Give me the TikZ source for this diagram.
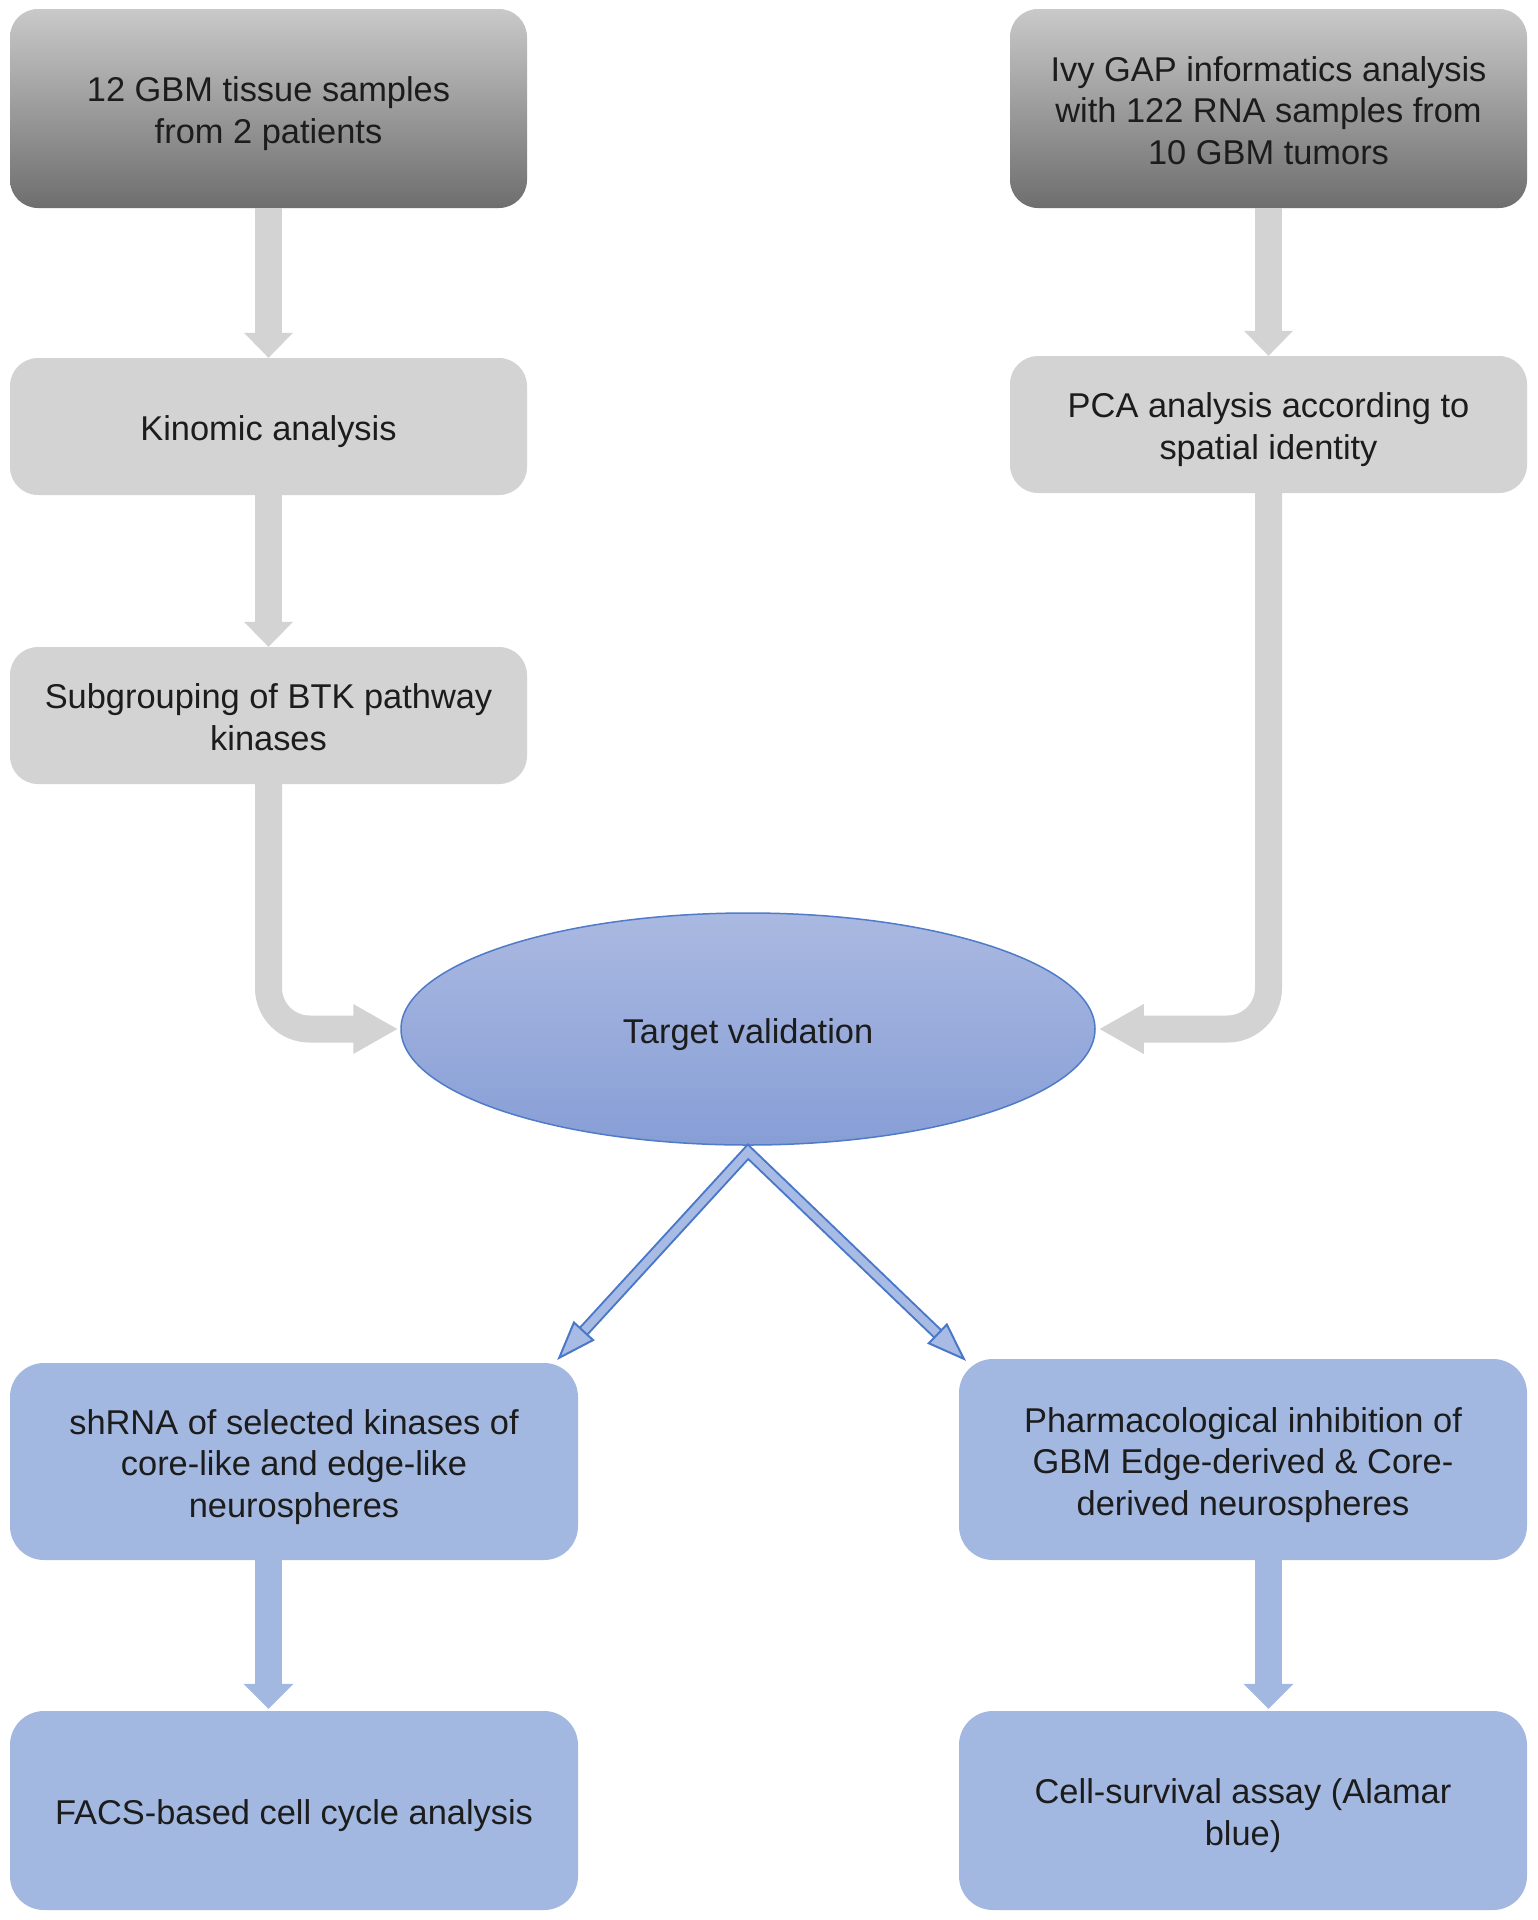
\documentclass[tikz,border=0pt]{standalone}
\usepackage{fontspec}
\setmainfont{Liberation Sans}
\usetikzlibrary{calc,shapes.geometric}
\definecolor{gbox}{HTML}{D3D3D3}
\definecolor{garrow}{HTML}{D3D3D3}
\definecolor{gtop}{HTML}{C9C9C9}
\definecolor{gbot}{HTML}{6E6E6E}
\definecolor{bbox}{HTML}{A3B8E1}
\definecolor{etop}{HTML}{AAB9E1}
\definecolor{ebot}{HTML}{879ED6}
\definecolor{eline}{HTML}{4F7BC8}
\definecolor{dfill}{HTML}{A7BBE4}
\definecolor{dline}{HTML}{4A78C8}
\definecolor{txt}{HTML}{1C1C1C}
\newcommand{\topstrut}{\rule{0pt}{36pt}}
\newcommand{\botstrut}{\rule[-8pt]{0pt}{8pt}}
\begin{document}
\begin{tikzpicture}[x=1pt,y=-1pt,
  every node/.style={font=\fontsize{34.4}{41.5}\selectfont, text=txt, align=center, inner sep=0pt},
  graybox/.style={rectangle, rounded corners=28pt, fill=gbox, minimum width=517pt, minimum height=137pt},
  darkbox/.style={rectangle, rounded corners=28pt, top color=gtop, bottom color=gbot, minimum width=517pt, minimum height=199pt},
  bluebox/.style={rectangle, rounded corners=34pt, fill=bbox, minimum width=568pt, minimum height=199pt},
  gshaft/.style={draw=garrow, line width=27pt},
  bshaft/.style={draw=bbox, line width=27pt},
  dblarrow/.style={draw=dline, line width=2pt, double=dfill, double distance=8pt, line join=miter},
  dblhead/.style={fill=dfill, draw=dline, line width=2pt, line join=miter}
]
\useasboundingbox (0,0) rectangle (1538,1920);
\fill[white] (0,0) rectangle (1538,1920);

% nodes
\node[darkbox] (A) at (268.5,108.5) {\topstrut 12 GBM tissue samples\\from 2 patients\botstrut};
\node[darkbox] (B) at (1268.5,108.5) {\topstrut Ivy GAP informatics analysis\\with 122 RNA samples from\\10 GBM tumors\botstrut};
\node[graybox] (C) at (268.5,426.5) {\topstrut Kinomic analysis\botstrut};
\node[graybox] (D) at (1268.5,424.5) {\topstrut PCA analysis according to\\spatial identity\botstrut};
\node[graybox] (E) at (268.5,715.5) {\topstrut Subgrouping of BTK pathway\\kinases\botstrut};
\node[ellipse, minimum width=694pt, minimum height=232pt, top color=etop, bottom color=ebot, draw=eline, line width=1.5pt] (T) at (748,1029) {\topstrut Target validation\botstrut};
\node[bluebox, minimum height=197pt] (F) at (294,1461.5) {\topstrut shRNA of selected kinases of\\core-like and edge-like\\neurospheres\botstrut};
\node[bluebox, minimum height=201pt] (G) at (1243,1459.5) {\topstrut Pharmacological inhibition of\\GBM Edge-derived \& Core-\\derived neurospheres\botstrut};
\node[bluebox] (H) at (294,1810.5) {\topstrut FACS-based cell cycle analysis\botstrut};
\node[bluebox] (I) at (1243,1810.5) {\topstrut Cell-survival assay (Alamar\\blue)\botstrut};

% gray straight arrows
\draw[gshaft] (A.south) -- ([yshift=22pt]C.north);
\fill[garrow] (C.north) -- ++(-24.5pt,25pt) -- ++(49pt,0pt) -- cycle;
\draw[gshaft] (B.south) -- ([yshift=22pt]D.north);
\fill[garrow] (D.north) -- ++(-24.5pt,25pt) -- ++(49pt,0pt) -- cycle;
\draw[gshaft] (C.south) -- ([yshift=22pt]E.north);
\fill[garrow] (E.north) -- ++(-24.5pt,25pt) -- ++(49pt,0pt) -- cycle;

% gray elbow arrows
\coordinate (tw) at ([xshift=-3pt]T.west);
\coordinate (te) at ([xshift=4pt]T.east);
\draw[gshaft, rounded corners=41pt] (E.south) -- (E.south |- tw) -- ([xshift=-42pt]tw);
\fill[garrow] (tw) -- ++(-44pt,25pt) -- ++(0pt,-50pt) -- cycle;
\draw[gshaft, rounded corners=41pt] (D.south) -- (D.south |- te) -- ([xshift=42pt]te);
\fill[garrow] (te) -- ++(44pt,25pt) -- ++(0pt,-50pt) -- cycle;

% blue double arrows
\coordinate (P) at ([yshift=-6pt]T.south);
\coordinate (tL) at ([xshift=-19pt,yshift=5pt]F.north east);
\coordinate (tR) at ([xshift=5pt]G.north west);
\coordinate (bL) at ($(tL)!36pt!(P)$);
\coordinate (bR) at ($(tR)!36pt!(P)$);
\draw[dblarrow] ($(tL)!30pt!(P)$) -- (P) -- ($(tR)!30pt!(P)$);
\filldraw[dblhead] (tL) -- ($(bL)!13pt!90:(tL)$) -- ($(bL)!13pt!-90:(tL)$) -- cycle;
\filldraw[dblhead] (tR) -- ($(bR)!13pt!90:(tR)$) -- ($(bR)!13pt!-90:(tR)$) -- cycle;

% blue straight arrows
\coordinate (hL) at (A |- H.north);
\coordinate (hR) at (B |- I.north);
\draw[bshaft] (A |- F.south) -- ([yshift=22pt]hL);
\fill[bbox] ([yshift=2pt]hL) -- ++(-25pt,25pt) -- ++(50pt,0pt) -- cycle;
\draw[bshaft] (B |- G.south) -- ([yshift=22pt]hR);
\fill[bbox] ([yshift=2pt]hR) -- ++(-25pt,25pt) -- ++(50pt,0pt) -- cycle;
\end{tikzpicture}
\end{document}
